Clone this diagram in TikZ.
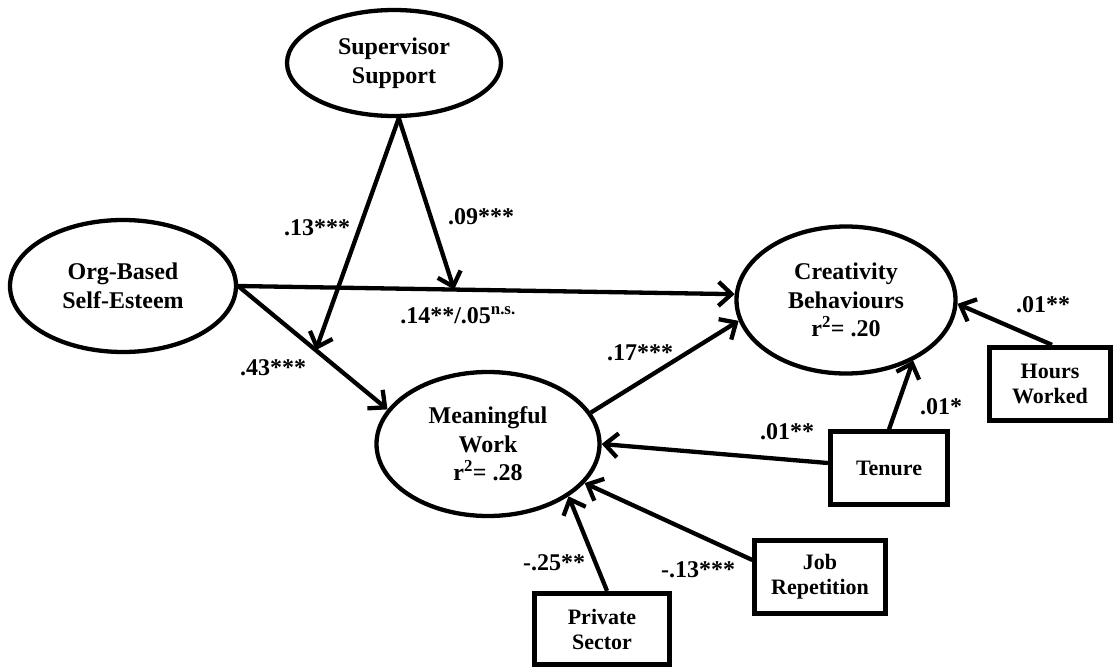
\documentclass[tikz,border=0pt]{standalone}
\usepackage{fontspec}
\setmainfont{Liberation Serif}
\usetikzlibrary{shapes.geometric,arrows.meta,calc}
\begin{document}
\begin{tikzpicture}[x=1pt,y=-1pt,
  every node/.style={align=center},
  latent/.style={draw, ellipse, line width=4.3pt, inner sep=0pt,
    font=\fontsize{24}{28.5}\selectfont\bfseries},
  observed/.style={draw, rectangle, line width=4.8pt, inner sep=0pt,
    font=\fontsize{22}{25}\selectfont\bfseries},
  conn/.style={line width=4.3pt, -{Straight Barb[length=13pt,width=24pt]}},
  lbl/.style={inner sep=0pt, font=\fontsize{24}{28}\selectfont\bfseries}]
\useasboundingbox (0,0) rectangle (1116,669);
% latent variables
\node[latent, minimum width=214pt, minimum height=106pt] (sup) at (394,63) {Supervisor\\Support};
\node[latent, minimum width=226pt, minimum height=132pt] (obse) at (123,286) {Org-Based\\Self-Esteem};
\node[latent, minimum width=219pt, minimum height=147pt] (cb) at (846,300) {Creativity\\Behaviours\\r\textsuperscript{2}= .20};
\node[latent, minimum width=223pt, minimum height=144pt] (mw) at (488,444) {Meaningful\\Work\\r\textsuperscript{2}= .28};
% observed variables
\node[observed, minimum width=121.5pt, minimum height=73.5pt] (hours) at (1050,384) {Hours\\Worked};
\node[observed, minimum width=117.5pt, minimum height=72.5pt] (tenure) at (889,468) {Tenure};
\node[observed, minimum width=130.5pt, minimum height=72.5pt] (jobrep) at (820,577) {Job\\Repetition};
\node[observed, minimum width=134.5pt, minimum height=71.5pt] (private) at (602,629) {Private\\Sector};
% moderation points
\coordinate (m1) at ($(obse.east)!0.52!(mw.161)$);
\coordinate (m2) at ($(obse.east)!0.435!(cb.177)$);
% paths
\draw[conn] (obse.east) -- (cb.177);
\draw[conn] (obse.east) -- (mw.161);
\draw[conn] (sup.-85) -- (m1);
\draw[conn] (sup.-85) -- (m2);
\draw[conn] (mw.17) -- (cb.191);
\draw[conn] ([xshift=2pt]hours.north) -- (cb.-2);
\draw[conn] (tenure.north) -- (cb.-42);
\draw[conn] ([yshift=5pt]tenure.west) -- (mw.east);
\draw[conn] ([yshift=17pt]jobrep.west) -- (mw.-22);
\draw[conn] ([xshift=5pt]private.north) -- (mw.-33);
% labels
\node[lbl] (l1) at (317,228) {.13***};
\node[lbl] (l2) at (481,217) {.09***};
\node[lbl] (l3) at (458,315) {.14**/.05\textsuperscript{n.s.}};
\node[lbl] (l4) at (273,368) {.43***};
\node[lbl] (l5) at (640,353) {.17***};
\node[lbl] (l6) at (1043,305) {.01**};
\node[lbl] (l7) at (941,407) {.01*};
\node[lbl] (l8) at (787,432) {.01**};
\node[lbl] (l9) at (698,570) {-.13***};
\node[lbl] (l10) at (554,563) {-.25**};
\end{tikzpicture}
\end{document}
